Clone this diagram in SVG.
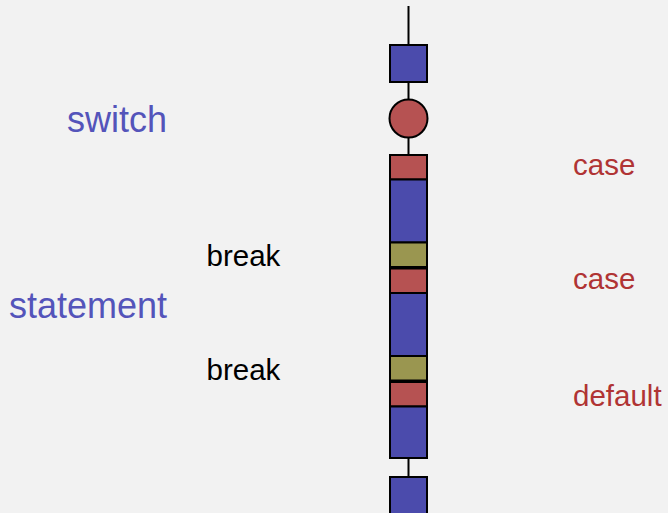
<svg xmlns="http://www.w3.org/2000/svg" width="668" height="513" viewBox="0 0 668 513">
  <style>
    .blk { fill: #4b4bac; stroke: #000; stroke-width: 2; }
    .cas { fill: #b65252; stroke: #000; stroke-width: 2; }
    .brk { fill: #9a9650; stroke: #000; stroke-width: 2; }
    .wire { stroke: #000; stroke-width: 2; fill: none; }
    .lbl { font-family: "Liberation Sans", Arial, sans-serif; }
    .kw-blue { fill: #5454ba; font-size: 36px; }
    .kw-red { fill: #b03434; font-size: 29.5px; }
    .kw-black { fill: #000; font-size: 29.5px; }
  </style>
  <rect x="0" y="0" width="668" height="513" fill="#f2f2f2"/>

  <g id="connectors">
    <line class="wire" x1="408.5" y1="6" x2="408.5" y2="45"/>
    <line class="wire" x1="408.5" y1="82" x2="408.5" y2="100"/>
    <line class="wire" x1="408.5" y1="137" x2="408.5" y2="155"/>
    <line class="wire" x1="408.5" y1="458" x2="408.5" y2="477"/>
  </g>

  <g id="entry-block"><rect class="blk" x="390" y="45" width="37" height="37"/></g>
  <g id="switch-decision"><circle class="cas" cx="408.5" cy="118.5" r="19"/></g>
  <g id="case-1"><rect class="cas" x="390" y="155" width="37" height="24.5"/></g>
  <g id="body-1"><rect class="blk" x="390" y="179.5" width="37" height="63"/></g>
  <g id="break-1"><rect class="brk" x="390" y="242.5" width="37" height="24.5"/></g>
  <g id="case-2"><rect class="cas" x="390" y="268.5" width="37" height="24.5"/></g>
  <g id="body-2"><rect class="blk" x="390" y="293" width="37" height="63"/></g>
  <g id="break-2"><rect class="brk" x="390" y="356" width="37" height="24.5"/></g>
  <g id="default-case"><rect class="cas" x="390" y="382" width="37" height="24.5"/></g>
  <g id="body-3"><rect class="blk" x="390" y="406.5" width="37" height="51.5"/></g>
  <g id="exit-block"><rect class="blk" x="390" y="477" width="37" height="40"/></g>

  <g id="labels" class="lbl">
    <text class="kw-blue" x="167" y="132" text-anchor="end">switch</text>
    <text class="kw-blue" x="167" y="318" text-anchor="end">statement</text>
    <text class="kw-black" x="206.5" y="266">break</text>
    <text class="kw-black" x="206.5" y="380">break</text>
    <text class="kw-red" x="573" y="175">case</text>
    <text class="kw-red" x="573" y="289">case</text>
    <text class="kw-red" x="573" y="406">default</text>
  </g>
</svg>
